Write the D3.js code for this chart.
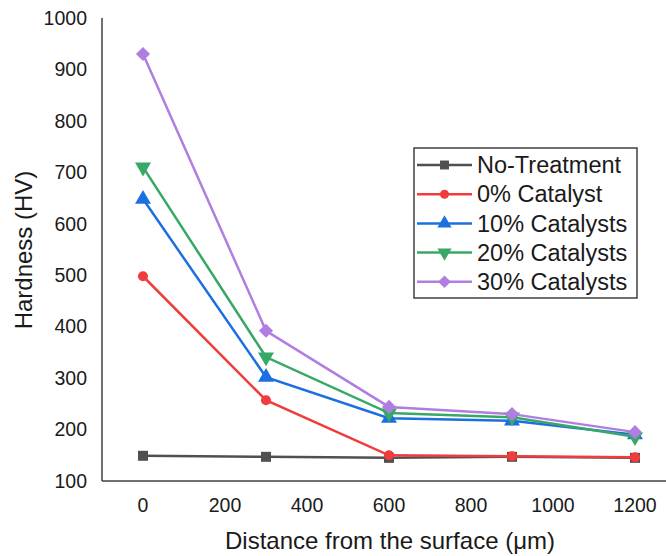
<!DOCTYPE html>
<head>
  <meta charset="utf-8">
  <script src="https://d3js.org/d3.v7.min.js"></script>
  <style>
    body { margin: 0; background: #fff; }
    text { font-family: "Liberation Sans", Arial, sans-serif; fill: #1a1a1a; }
  </style>
</head>
<body>
  <script>
    var outerWidth = 666, outerHeight = 556;

    // data
    var distances = [0, 300, 600, 900, 1200];
    var seriesNames = ["No-Treatment", "0% Catalyst", "10% Catalysts", "20% Catalysts", "30% Catalysts"];
    var noTreatment = [149, 147, 145, 147, 145];
    var catalyst0 = [498, 257, 150, 148, 146];
    var catalyst10 = [648, 302, 222, 217, 190];
    var catalyst20 = [710, 341, 232, 224, 186];
    var catalyst30 = [930, 392, 244, 230, 195];
    var xTicks = [0, 200, 400, 600, 800, 1000, 1200];
    var yTicks = [100, 200, 300, 400, 500, 600, 700, 800, 900, 1000];

    var colors = ["#505050", "#f03c3c", "#1c6fe0", "#38a866", "#b07ee0"];
    // diamond = square turned 45 degrees
    var symbols = [d3.symbolSquare, d3.symbolCircle, d3.symbolTriangle, d3.symbolTriangle, d3.symbolSquare];
    var sizes = [100, 80, 110, 110, 100];
    var rotations = [0, 0, 0, 180, 45];

    var series = [noTreatment, catalyst0, catalyst10, catalyst20, catalyst30].map(function(vals, i) {
      return { name: seriesNames[i], values: vals.map(function(v, j) { return { x: distances[j], y: v }; }) };
    });

    var xScale = d3.scaleLinear().domain([-100, 1300]).range([102, 676]);
    var yScale = d3.scaleLinear().domain([100, 1000]).range([481, 18]);

    var svg = d3.select("body").append("svg")
      .attr("width", outerWidth)
      .attr("height", outerHeight);

    // axes lines
    svg.append("line")
      .attr("x1", xScale(-100)).attr("x2", xScale(-100))
      .attr("y1", yScale(1000)).attr("y2", yScale(100))
      .attr("stroke", "#404040").attr("stroke-width", 1.5);
    svg.append("line")
      .attr("x1", xScale(-100)).attr("x2", outerWidth)
      .attr("y1", yScale(100)).attr("y2", yScale(100))
      .attr("stroke", "#404040").attr("stroke-width", 1.5);

    // tick labels
    svg.selectAll(".ytick").data(yTicks).enter().append("text")
      .attr("x", 87)
      .attr("y", function(d) { return yScale(d); })
      .attr("dy", "0.35em")
      .attr("text-anchor", "end")
      .style("font-size", "19.5px")
      .text(function(d) { return d; });

    svg.selectAll(".xtick").data(xTicks).enter().append("text")
      .attr("x", function(d) { return xScale(d); })
      .attr("y", 505)
      .attr("dy", "0.35em")
      .attr("text-anchor", "middle")
      .style("font-size", "19.5px")
      .text(function(d) { return d; });

    // axis titles
    svg.append("text")
      .attr("x", 390).attr("y", 541)
      .attr("dy", "0.35em")
      .attr("text-anchor", "middle")
      .style("font-size", "24px")
      .text("Distance from the surface (μm)");

    svg.append("text")
      .attr("transform", "translate(24 250) rotate(-90)")
      .attr("dy", "0.35em")
      .attr("text-anchor", "middle")
      .style("font-size", "24px")
      .text("Hardness (HV)");

    var line = d3.line()
      .x(function(d) { return xScale(d.x); })
      .y(function(d) { return yScale(d.y); });

    var groups = svg.selectAll(".series").data(series).enter().append("g");

    groups.append("path")
      .attr("d", function(d) { return line(d.values); })
      .attr("fill", "none")
      .attr("stroke", function(d, i) { return colors[i]; })
      .attr("stroke-width", 2.5);

    groups.each(function(d, i) {
      d3.select(this).selectAll("path.pt").data(d.values).enter().append("path")
        .attr("class", "pt")
        .attr("d", d3.symbol().type(symbols[i]).size(sizes[i]))
        .attr("transform", function(p) {
          return "translate(" + xScale(p.x) + " " + yScale(p.y) + ") rotate(" + rotations[i] + ")";
        })
        .attr("fill", colors[i]);
    });

    // legend
    var legend = svg.append("g");
    legend.append("rect")
      .attr("x", 414).attr("y", 148)
      .attr("width", 223).attr("height", 150)
      .attr("fill", "#fff")
      .attr("stroke", "#404040").attr("stroke-width", 1.5);

    var rows = legend.selectAll(".row").data(seriesNames).enter().append("g")
      .attr("transform", function(d, i) { return "translate(0 " + (165 + i * 29.2) + ")"; });

    rows.append("line")
      .attr("x1", 417).attr("x2", 472)
      .attr("stroke", function(d, i) { return colors[i]; })
      .attr("stroke-width", 2.5);

    rows.append("path")
      .attr("d", function(d, i) { return d3.symbol().type(symbols[i]).size(sizes[i] * 0.8)(); })
      .attr("transform", function(d, i) { return "translate(444.5 0) rotate(" + rotations[i] + ")"; })
      .attr("fill", function(d, i) { return colors[i]; });

    rows.append("text")
      .attr("x", 477)
      .attr("dy", "0.35em")
      .style("font-size", "23.5px")
      .text(function(d) { return d; });
  </script>
</body>
